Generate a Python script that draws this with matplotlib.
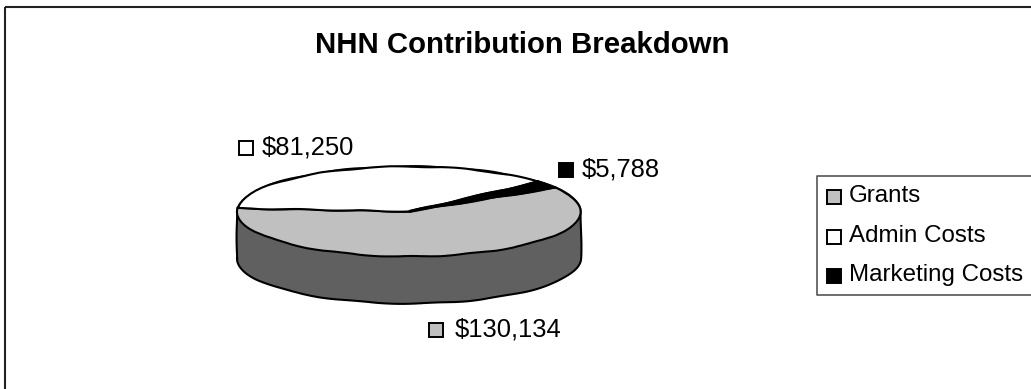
import numpy as np
import matplotlib
matplotlib.use("Agg")
import matplotlib.pyplot as plt
from matplotlib.patches import Rectangle

plt.rcParams['font.family'] = ['Liberation Sans', 'DejaVu Sans']

categories = ["Grants", "Admin Costs", "Marketing Costs"]
values = [130134, 81250, 5788]
value_labels = ["$130,134", "$81,250", "$5,788"]
colors = ["#C0C0C0", "#FFFFFF", "#000000"]
wall_color = "#606060"
title = "NHN Contribution Breakdown"

W, H = 1031, 389
fig = plt.figure(figsize=(W / 100, H / 100), dpi=100, facecolor="white")
ax = fig.add_axes([0, 0, 1, 1])

# Pixel-space overlay for the frame, legend and labels
px = fig.add_axes([0, 0, 1, 1], zorder=3)
px.set_xlim(0, W)
px.set_ylim(H, 0)
px.axis("off")

# Flattened pie: one data unit is the ellipse semi-axis in each direction
cx, cy, rx, ry, depth = 409, 211.5, 172, 45, 47 / 45
rough = (0.45, 70, 2)

t = np.radians(np.linspace(180, 360, 91))
wall_x = np.r_[np.cos(t), np.cos(t[::-1])]
wall_y = np.r_[np.sin(t) - depth, -np.sin(t[::-1])]
wall = ax.fill(wall_x, wall_y, facecolor=wall_color, edgecolor="black", lw=1.5, zorder=0)[0]
wall.set_sketch_params(*rough)

wedges, _ = ax.pie(
    values, colors=colors, startangle=31.7, counterclock=False,
    wedgeprops=dict(edgecolor="black", linewidth=1.5),
)
for w in wedges:
    w.set_sketch_params(*rough)
ax.set_aspect("auto")
ax.set_xlim(-cx / rx, (W - cx) / rx)
ax.set_ylim((cy - H) / ry, cy / ry)
ax.axis("off")

# Outer frame: only the top and left edges are visible
px.plot([5, W], [7, 7], color="#222222", lw=1.5, solid_capstyle="butt")
px.plot([5, 5], [7, H], color="#222222", lw=1.5, solid_capstyle="butt")

px.text(522, 45, title, ha="center", va="center", fontsize=21.2, fontweight="bold")

def keyed_text(x, y, color, text, size, text_x):
    px.add_patch(Rectangle((x, y - 7), 14, 14, facecolor=color, edgecolor="black", lw=1.4))
    px.text(text_x, y - 1, text, ha="left", va="center", fontsize=size)

keyed_text(239, 148, colors[1], value_labels[1], 18.4, 262)
keyed_text(559, 170, colors[2], value_labels[2], 18.4, 582)
keyed_text(429, 330, colors[0], value_labels[0], 18.4, 455)

# Legend box, open on the right where it meets the figure edge
px.plot([W, 817, 817, W], [176, 176, 295, 295], color="#555555", lw=1.2)
for y, c, name in zip([197, 237, 276], colors, categories):
    keyed_text(827, y, c, name, 17.4, 849)

fig.savefig("out.png", dpi=100, facecolor="white")
